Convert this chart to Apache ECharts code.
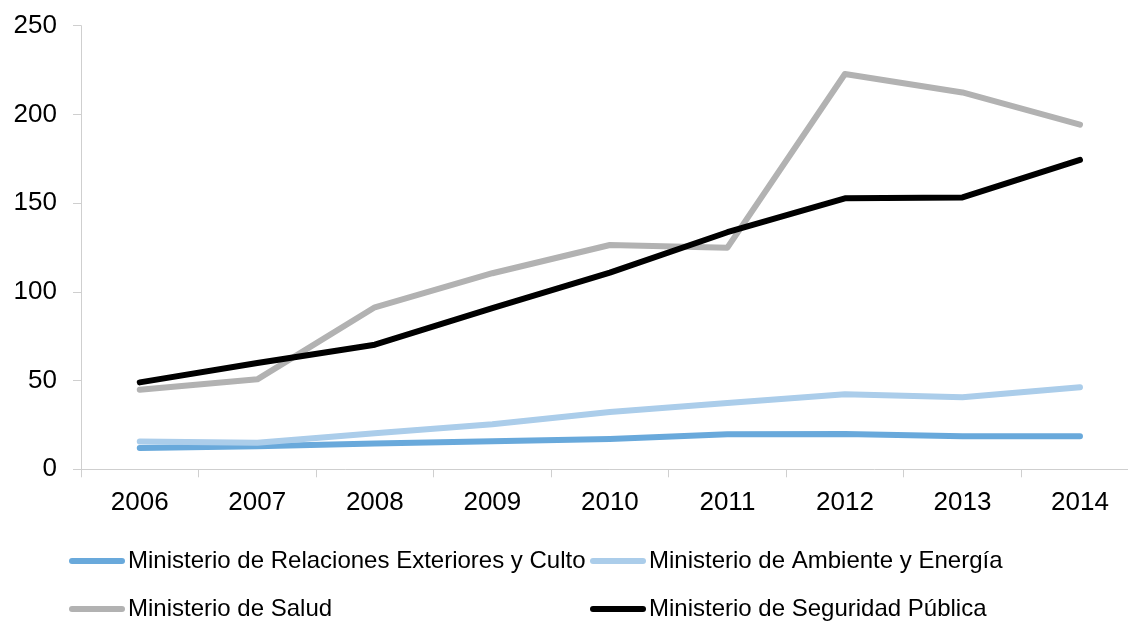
<!DOCTYPE html>
<html>
<head>
<meta charset="utf-8">
<script src="https://cdn.jsdelivr.net/npm/echarts@6/dist/echarts.min.js"></script>
<style>
html,body{margin:0;padding:0;background:#fff;overflow:hidden;width:1128px;height:623px;}
#chart{width:1139px;height:623px;}
</style>
</head>
<body>
<div id="chart"></div>
<script>
const years = ['2006','2007','2008','2009','2010','2011','2012','2013','2014'];
const relaciones = [12, 13, 14.6, 15.8, 17.1, 19.7, 19.9, 18.6, 18.6];
const ambiente = [15.6, 15, 20.3, 25.4, 32.3, 37.4, 42.3, 40.6, 46.2];
const salud = [44.8, 50.7, 91.3, 110.5, 126.4, 124.9, 222.8, 212.4, 194.2];
const seguridad = [49, 59.9, 70.2, 90.8, 110.8, 133.6, 152.7, 153.2, 174.4];
const seriesNames = ['Ministerio de Relaciones Exteriores y Culto','Ministerio de Ambiente y Energía','Ministerio de Salud','Ministerio de Seguridad Pública'];
const seriesData = [relaciones, ambiente, salud, seguridad];
const colors = ['#69a9db','#abcdea','#b2b2b2','#000000'];
const yTicks = [0, 50, 100, 150, 200, 250];

const font = 'Liberation Sans, Arial, sans-serif';
const chart = echarts.init(document.getElementById('chart'), null, {renderer:'canvas'});

const legendPos = [[69,549],[590,549],[69,597],[590,597]];
const legends = seriesNames.map((n,i)=>({
  data:[n], left:legendPos[i][0], top:legendPos[i][1], padding:0,
  itemWidth:56, itemHeight:6, icon:'path://M3,0 L53,0 A3,3 0 0 1 53,6 L3,6 A3,3 0 0 1 3,0 Z',
  itemStyle:{color:colors[i]},
  textStyle:{fontFamily:font, fontSize:24, color:'#000', padding:[0,0,0,-2]},
  selectedMode:false
}));

chart.setOption({
  animation:false,
  backgroundColor:'#fff',
  legend: legends,
  grid:{left:81, top:25.7, right:0.25, bottom:153.7, containLabel:false},
  xAxis:{
    type:'category', data:years, boundaryGap:true,
    axisLine:{lineStyle:{color:'#cfcfcf', width:1}},
    axisTick:{show:true, length:8, lineStyle:{color:'#cfcfcf'}},
    axisLabel:{fontFamily:font, fontSize:26, color:'#000', margin:21}
  },
  yAxis:{
    type:'value', min:yTicks[0], max:yTicks[yTicks.length-1], interval:50,
    axisLine:{show:true, lineStyle:{color:'#cfcfcf', width:1}},
    axisTick:{show:true, length:8, lineStyle:{color:'#cfcfcf'}},
    splitLine:{show:false},
    axisLabel:{fontFamily:font, fontSize:26, color:'#000', margin:24}
  },
  series: seriesNames.map((n,i)=>({
    name:n, type:'line', data:seriesData[i], symbol:'none',
    lineStyle:{color:colors[i], width:6, cap:'round', join:'round'},
    itemStyle:{color:colors[i]}
  }))
});
</script>
</body>
</html>
